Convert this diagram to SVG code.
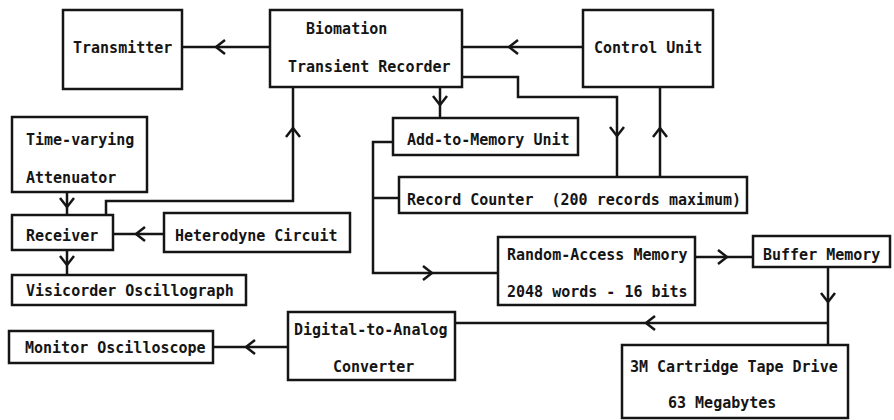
<svg xmlns="http://www.w3.org/2000/svg" xmlns:xlink="http://www.w3.org/1999/xlink" width="894" height="420" viewBox="0 0 894 420">
<style>
.box{fill:#fff;stroke:#151515;stroke-width:2.5}
.ln{fill:none;stroke:#151515;stroke-width:2.5}
.ah{fill:none;stroke:#151515;stroke-width:2.5;stroke-linejoin:miter}
text{font-family:"DejaVu Sans Mono","Liberation Mono",monospace;font-size:15px;font-weight:bold;fill:#151515}
</style>
<defs>
<path id="ah" d="M-6,-7 L3,0 L-6,7"/>
</defs>
<rect width="894" height="420" fill="#fff"/>
<g id="connectors">
<line class="ln" x1="182" y1="47" x2="270" y2="47"/>
<use href="#ah" class="ah" transform="translate(219,47) rotate(180)"/>
<line class="ln" x1="462" y1="47" x2="583" y2="47"/>
<use href="#ah" class="ah" transform="translate(512,47) rotate(180)"/>
<path class="ln" d="M462,77 H518 V97 H617 V177"/>
<use href="#ah" class="ah" transform="translate(617,133) rotate(90)"/>
<line class="ln" x1="660" y1="177" x2="660" y2="87"/>
<use href="#ah" class="ah" transform="translate(660,131) rotate(-90)"/>
<line class="ln" x1="440" y1="87" x2="440" y2="118"/>
<use href="#ah" class="ah" transform="translate(440,102) rotate(90)"/>
<path class="ln" d="M393,142 H373 V273 H498 M373,198 H399"/>
<use href="#ah" class="ah" transform="translate(429,273)"/>
<line class="ln" x1="695" y1="257" x2="753" y2="257"/>
<use href="#ah" class="ah" transform="translate(724,257)"/>
<line class="ln" x1="828" y1="267" x2="828" y2="345"/>
<use href="#ah" class="ah" transform="translate(828,299) rotate(90)"/>
<line class="ln" x1="828" y1="323" x2="455" y2="323"/>
<use href="#ah" class="ah" transform="translate(649,323) rotate(180)"/>
<line class="ln" x1="288" y1="347" x2="213" y2="347"/>
<use href="#ah" class="ah" transform="translate(249,347) rotate(180)"/>
<line class="ln" x1="67" y1="192" x2="67" y2="215"/>
<use href="#ah" class="ah" transform="translate(67,204) rotate(90)"/>
<path class="ln" d="M106,215 V201 H293 V87"/>
<use href="#ah" class="ah" transform="translate(293,131) rotate(-90)"/>
<line class="ln" x1="164" y1="234" x2="113" y2="234"/>
<use href="#ah" class="ah" transform="translate(139,234) rotate(180)"/>
<line class="ln" x1="67" y1="250" x2="67" y2="275"/>
<use href="#ah" class="ah" transform="translate(67,262) rotate(90)"/>
</g>
<g id="transmitter"><rect class="box" x="63" y="10" width="119" height="79"/><text x="73" y="53">Transmitter</text></g>
<g id="biomation"><rect class="box" x="270" y="10" width="192" height="77"/><text x="306" y="34">Biomation</text><text x="288" y="72">Transient Recorder</text></g>
<g id="control"><rect class="box" x="583" y="10" width="130" height="77"/><text x="594" y="53">Control Unit</text></g>
<g id="attenuator"><rect class="box" x="12" y="117" width="135" height="75"/><text x="26" y="145">Time-varying</text><text x="26" y="183">Attenuator</text></g>
<g id="receiver"><rect class="box" x="12" y="215" width="101" height="35"/><text x="26" y="241">Receiver</text></g>
<g id="heterodyne"><rect class="box" x="164" y="213" width="186" height="39"/><text x="175" y="241">Heterodyne Circuit</text></g>
<g id="visicorder"><rect class="box" x="12" y="275" width="234" height="30"/><text x="26" y="296">Visicorder Oscillograph</text></g>
<g id="addmem"><rect class="box" x="393" y="118" width="185" height="37"/><text x="407" y="145">Add-to-Memory Unit</text></g>
<g id="counter"><rect class="box" x="399" y="177" width="348" height="36"/><text x="407" y="205" xml:space="preserve">Record Counter  (200 records maximum)</text></g>
<g id="ram"><rect class="box" x="498" y="237" width="197" height="68"/><text x="507" y="260">Random-Access Memory</text><text x="507" y="297">2048 words - 16 bits</text></g>
<g id="buffer"><rect class="box" x="753" y="236" width="137" height="31"/><text x="763" y="260">Buffer Memory</text></g>
<g id="dac"><rect class="box" x="288" y="312" width="167" height="68"/><text x="294" y="335">Digital-to-Analog</text><text x="333" y="372">Converter</text></g>
<g id="monitor"><rect class="box" x="9" y="331" width="204" height="32"/><text x="25" y="353">Monitor Oscilloscope</text></g>
<g id="tape"><rect class="box" x="622" y="345" width="226" height="73"/><text x="630" y="372">3M Cartridge Tape Drive</text><text x="668" y="408">63 Megabytes</text></g>
</svg>
